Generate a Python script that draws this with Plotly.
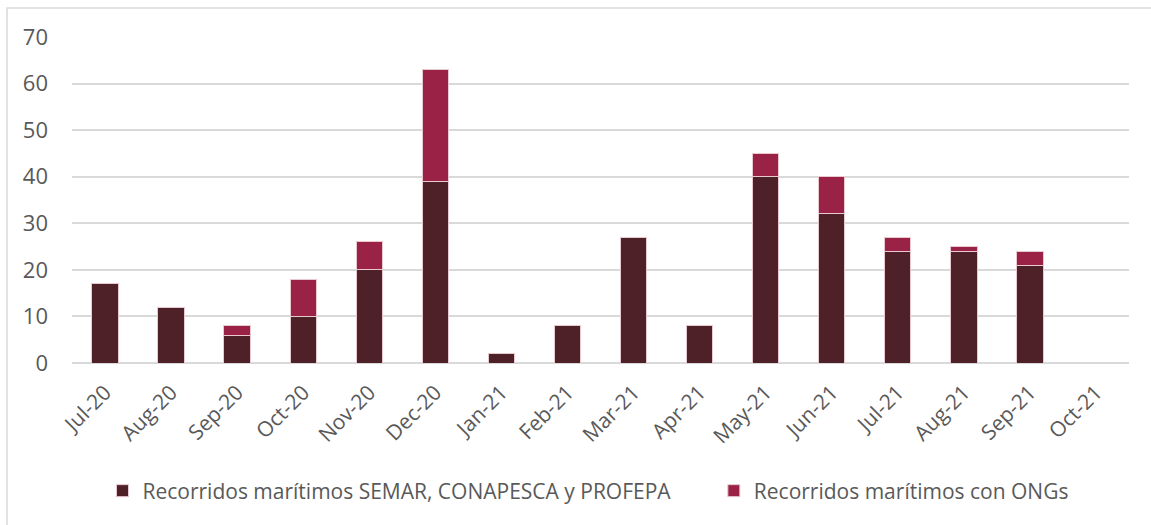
import plotly.graph_objects as go

months = ["Jul-20", "Aug-20", "Sep-20", "Oct-20", "Nov-20", "Dec-20", "Jan-21", "Feb-21",
          "Mar-21", "Apr-21", "May-21", "Jun-21", "Jul-21", "Aug-21", "Sep-21", "Oct-21"]
semar = [17, 12, 6, 10, 20, 39, 2, 8, 27, 8, 40, 32, 24, 24, 21, 0]
ongs = [0, 0, 2, 8, 6, 24, 0, 0, 0, 0, 5, 8, 3, 1, 3, 0]

name1 = "Recorridos marítimos SEMAR, CONAPESCA y PROFEPA"
name2 = "Recorridos marítimos con ONGs"

fig = go.Figure()
fig.add_trace(go.Bar(x=months, y=semar, name=name1 + "\u00a0" * 7, marker_color="#4E2129",
                     marker_line=dict(color="#E8C9CF", width=1)))
fig.add_trace(go.Bar(x=months, y=ongs, name=name2, marker_color="#9B2247",
                     marker_line=dict(color="#E8C9CF", width=1)))

W, H = 1151, 525
l, r, t, b = 72, 22, 37, 162
pw, ph = W - l - r, H - t - b

def px(x):
    return (x - l) / pw

def py(y):
    return (H - b - y) / ph

fig.update_layout(
    barmode="stack",
    bargap=0.6,
    width=W, height=H,
    margin=dict(l=l, r=r, t=t, b=b, autoexpand=False),
    paper_bgcolor="white", plot_bgcolor="white",
    font=dict(family="Open Sans, sans-serif", color="#595959", size=16),
    showlegend=True,
    legend=dict(orientation="h", x=px(588), xanchor="center", y=py(491), yanchor="middle",
                traceorder="normal",
                font=dict(size=21, color="#595959"), itemwidth=30),
    xaxis=dict(tickangle=-45, showgrid=False, showline=False, ticks="",
               ticklabelstandoff=12,
               tickfont=dict(size=21, color="#595959")),
    yaxis=dict(range=[0, 70], dtick=10, showgrid=True, gridcolor="#D9D9D9", gridwidth=1.5,
               zeroline=True, zerolinecolor="#D9D9D9", zerolinewidth=1.5,
               ticks="", ticklabelstandoff=23,
               tickfont=dict(size=22, color="#595959")),
    shapes=[dict(type="rect", xref="paper", yref="paper",
                 x0=px(7), x1=px(1160), y0=py(540), y1=py(8),
                 line=dict(color="#D9D9D9", width=1.5), layer="below")],
)

fig.write_html("out.html", post_script="document.body.style.margin='0';",
               config={"displayModeBar": False})
